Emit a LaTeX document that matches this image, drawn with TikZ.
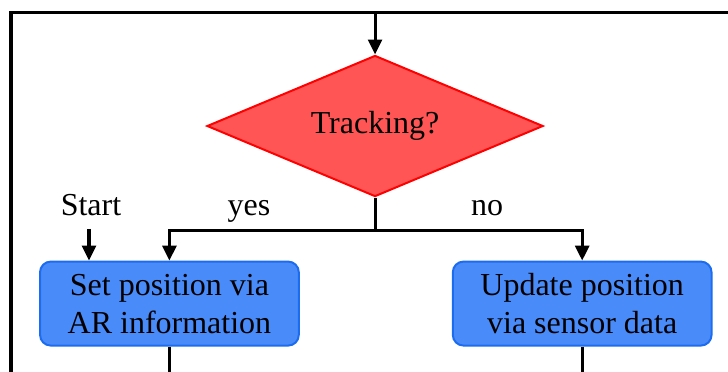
\documentclass[tikz,border=0pt]{standalone}
\usepackage{fontspec}
\setmainfont{Liberation Serif}
\usetikzlibrary{arrows.meta,positioning,shapes.geometric,calc}
\definecolor{trackred}{HTML}{FF5555}
\definecolor{trackedge}{HTML}{FF0000}
\definecolor{procblue}{HTML}{4A8BFA}
\definecolor{procedge}{HTML}{1C6CF0}
\tikzset{
  decision/.style={
    diamond, draw=trackedge, fill=trackred, line width=0.75pt,
    minimum width=4.43cm, minimum height=1.86cm, aspect=2.38,
    font=\fontsize{12}{14.25}\selectfont, inner sep=1pt
  },
  procbox/.style={
    rectangle, rounded corners=4pt, draw=procedge, fill=procblue, line width=0.75pt,
    minimum width=3.41cm, minimum height=1.107cm,
    font=\fontsize{12}{14.25}\selectfont, align=center, inner sep=2pt
  },
  flowline/.style={line width=1.15pt, color=black},
  flowarrow/.style={
    -{Triangle[length=5.6pt, width=5.2pt]}, line width=1.15pt, color=black
  },
  labelnode/.style={
    font=\fontsize{12}{14.25}\selectfont, inner sep=1pt, anchor=base
  },
}
\begin{document}
\begin{tikzpicture}
  \useasboundingbox (0,0) rectangle (9.595,-4.890);
  \clip (0,0) rectangle (9.595,-4.890);
  % decision
  \node[decision] (track) at (4.943,-1.661) {Tracking?};
  % actions
  \node[procbox] at ([yshift=-1.397cm, xshift=-2.71cm]track.south) (setpos) {Set position via\\AR information};
  \node[procbox] at ([yshift=-1.397cm, xshift=2.73cm]track.south) (update) {Update position\\via sensor data};
  % labels
  \node[labelnode] (start) at (1.199,-2.834) {Start};
  \node[labelnode] (yes) at (3.282,-2.834) {yes};
  \node[labelnode] (no) at (6.419,-2.834) {no};
  % loop back
  \coordinate (loopL) at (0.145,-5.3);
  \coordinate (loopR) at (10.2,-0.171);
  \coordinate (top) at (track.north |- loopR);
  \draw[flowline] (loopL) |- (loopR);
  \draw[flowarrow] (top) -- (track.north);
  % branches
  \coordinate (split) at ($(track.south)+(0,-0.435)$);
  \draw[flowline] (track.south) -- (split);
  \draw[flowarrow] (split) -| (setpos.north);
  \draw[flowarrow] (split) -| (update.north);
  \coordinate (startpt) at (1.173,-3.018);
  \draw[flowarrow] (startpt) -- (startpt |- setpos.north);
  \draw[flowline] (setpos.south) -- ++(0,-1);
  \draw[flowline] (update.south) -- ++(0,-1);
\end{tikzpicture}
\end{document}
